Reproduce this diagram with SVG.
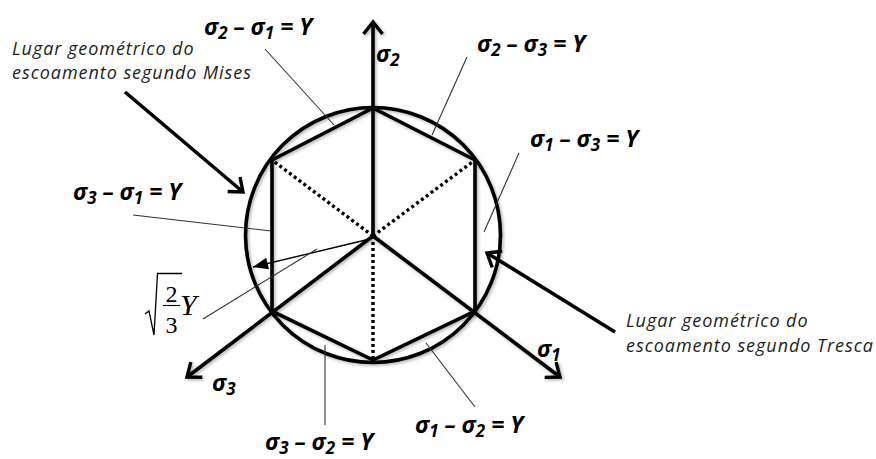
<svg xmlns="http://www.w3.org/2000/svg" width="876" height="459" viewBox="0 0 876 459">
<style>
.thick{fill:none;stroke:#000;stroke-width:3.6;stroke-linejoin:miter;stroke-linecap:butt}
.dot{fill:none;stroke:#000;stroke-width:3.4;stroke-dasharray:3 3}
.lead{fill:none;stroke:#333;stroke-width:1.1}
.eq{font-family:"Open Sans","Liberation Sans",sans-serif;font-weight:bold;font-style:italic;font-size:23px;fill:#000}
.sub{font-size:17px}
.note{font-family:"Open Sans","Liberation Sans",sans-serif;font-style:italic;font-size:18px;letter-spacing:0.95px;fill:#222}
.math{font-family:"Liberation Serif",serif;fill:#000}
</style>
<defs>
<marker id="open" markerUnits="userSpaceOnUse" viewBox="-16 -12 20 24" refX="0" refY="0" markerWidth="20" markerHeight="24" orient="auto" overflow="visible">
<path d="M-12,-9.5 L0,0 L-12,9.5" fill="none" stroke="#000" stroke-width="3.4"/>
</marker>
<marker id="fill" markerUnits="userSpaceOnUse" viewBox="-16 -8 18 16" refX="0" refY="0" markerWidth="18" markerHeight="16" orient="auto" overflow="visible">
<path d="M-15,-6 L0,0 L-15,6 Z" fill="#000"/>
</marker>
<filter id="sh" x="-10%" y="-10%" width="120%" height="120%">
<feDropShadow dx="1.5" dy="1.5" stdDeviation="1.6" flood-color="#000" flood-opacity="0.3"/>
</filter>
</defs>
<rect width="876" height="459" fill="#fff"/>

<g id="mises-circle" filter="url(#sh)">
<circle cx="373" cy="235" r="127.5" class="thick"/>
</g>
<g id="tresca-hexagon" filter="url(#sh)">
<polygon points="373,108 475,160 475,311 373,360 272,311 272,160" class="thick"/>
</g>
<g id="dotted-axes">
<line x1="373" y1="236" x2="272" y2="160" class="dot"/>
<line x1="373" y1="236" x2="475" y2="160" class="dot"/>
<line x1="373" y1="236" x2="373" y2="360" class="dot"/>
</g>
<g id="axes" filter="url(#sh)">
<line id="axis-s2" x1="373" y1="236" x2="373" y2="22" class="thick" marker-end="url(#open)"/>
<line id="axis-s1" x1="373" y1="236" x2="560" y2="377" class="thick" marker-end="url(#open)"/>
<line id="axis-s3" x1="373" y1="236" x2="187" y2="377" class="thick" marker-end="url(#open)"/>
</g>

<g id="connectors">
<line x1="125" y1="92" x2="243" y2="192" class="thick" marker-end="url(#open)"/>
<line x1="615" y1="332" x2="487" y2="253" class="thick" marker-end="url(#open)"/>
<line x1="370" y1="239" x2="253" y2="267" stroke="#000" stroke-width="1.4" marker-end="url(#fill)"/>
<line x1="265" y1="49" x2="334" y2="125" class="lead"/>
<line x1="467" y1="57" x2="432" y2="135" class="lead"/>
<line x1="519" y1="153" x2="484" y2="232" class="lead"/>
<line x1="133" y1="215" x2="271" y2="231" class="lead"/>
<line x1="203" y1="319" x2="317" y2="249" class="lead"/>
<line x1="325" y1="345" x2="325" y2="425" class="lead"/>
<line x1="426" y1="343" x2="475" y2="407" class="lead"/>
</g>

<g id="label-s2-s1"><text class="eq" x="204" y="35">σ<tspan class="sub" dy="4">2</tspan><tspan dy="-4"> – σ</tspan><tspan class="sub" dy="4">1</tspan><tspan dy="-4"> = Y</tspan></text></g>
<g id="label-s2-s3"><text class="eq" x="477" y="52">σ<tspan class="sub" dy="4">2</tspan><tspan dy="-4"> – σ</tspan><tspan class="sub" dy="4">3</tspan><tspan dy="-4"> = Y</tspan></text></g>
<g id="label-s1-s3"><text class="eq" x="530" y="147">σ<tspan class="sub" dy="4">1</tspan><tspan dy="-4"> – σ</tspan><tspan class="sub" dy="4">3</tspan><tspan dy="-4"> = Y</tspan></text></g>
<g id="label-s3-s1"><text class="eq" x="73" y="200">σ<tspan class="sub" dy="4">3</tspan><tspan dy="-4"> – σ</tspan><tspan class="sub" dy="4">1</tspan><tspan dy="-4"> = Y</tspan></text></g>
<g id="label-s3-s2"><text class="eq" x="265" y="450">σ<tspan class="sub" dy="4">3</tspan><tspan dy="-4"> – σ</tspan><tspan class="sub" dy="4">2</tspan><tspan dy="-4"> = Y</tspan></text></g>
<g id="label-s1-s2"><text class="eq" x="415" y="433">σ<tspan class="sub" dy="4">1</tspan><tspan dy="-4"> – σ</tspan><tspan class="sub" dy="4">2</tspan><tspan dy="-4"> = Y</tspan></text></g>

<g id="axis-label-s2"><text class="eq" x="376" y="62">σ<tspan class="sub" dy="4">2</tspan></text></g>
<g id="axis-label-s1"><text class="eq" x="537" y="357">σ<tspan class="sub" dy="4">1</tspan></text></g>
<g id="axis-label-s3"><text class="eq" x="212" y="391">σ<tspan class="sub" dy="4">3</tspan></text></g>

<g id="label-mises"><text class="note" x="12" y="55">Lugar geométrico do</text><text class="note" x="12" y="79">escoamento segundo Mises</text></g>
<g id="label-tresca"><text class="note" x="626" y="327">Lugar geométrico do</text><text class="note" x="626" y="352">escoamento segundo Tresca</text></g>

<g id="label-radius">
<polyline points="145,314 149,311 154,335 157.5,273.5 182,273.5" fill="none" stroke="#000" stroke-width="1.3" stroke-linejoin="miter"/>
<text class="math" x="171.5" y="302" font-size="24" text-anchor="middle">2</text>
<line x1="163" y1="305.5" x2="180" y2="305.5" stroke="#000" stroke-width="1.1"/>
<text class="math" x="171.5" y="333" font-size="24" text-anchor="middle">3</text>
<text class="math" x="180" y="315" font-size="30" font-style="italic">Y</text>
</g>
</svg>
